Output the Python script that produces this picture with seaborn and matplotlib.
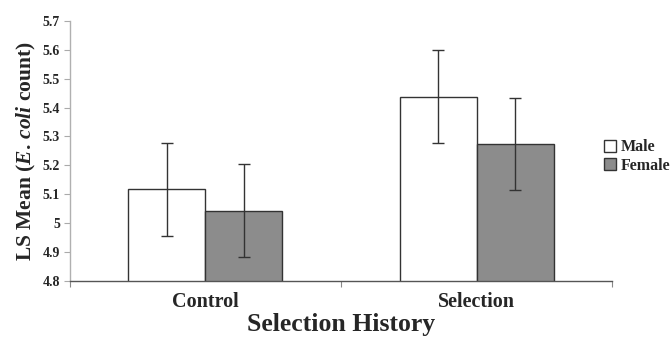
import pandas as pd
import matplotlib
matplotlib.use("Agg")
import matplotlib.pyplot as plt
import seaborn as sns

# values
groups = ["Control", "Selection"]
sexes = ["Male", "Female"]
male_means = [5.117, 5.437]
female_means = [5.043, 5.273]
male_err = [0.161, 0.161]
female_err = [0.160, 0.160]
yticks = [4.8, 4.9, 5.0, 5.1, 5.2, 5.3, 5.4, 5.5, 5.6, 5.7]

df = pd.DataFrame({
    "group": groups * 2,
    "sex": ["Male"] * 2 + ["Female"] * 2,
    "mean": male_means + female_means,
    "err": male_err + female_err,
})

sns.set_style("white")
plt.rcParams["font.family"] = ["Liberation Serif", "DejaVu Serif"]
plt.rcParams["font.weight"] = "bold"
plt.rcParams["mathtext.fontset"] = "custom"
plt.rcParams["mathtext.rm"] = "Liberation Serif:bold"
plt.rcParams["mathtext.it"] = "Liberation Serif:bold:italic"
plt.rcParams["mathtext.bf"] = "Liberation Serif:bold"

fig = plt.figure(figsize=(6.72, 3.41), dpi=100)
ax = fig.add_axes([0.104, 0.176, 0.807, 0.763])

sns.barplot(data=df, x="group", y="mean", hue="sex", hue_order=sexes,
            palette={"Male": "white", "Female": "#8c8c8c"},
            width=0.568, gap=0, errorbar=None, edgecolor="#333333",
            linewidth=1.0, ax=ax, legend=True)

# error bars on bar centres (patches come in hue order: male bars, then female)
bars = [p for p in ax.patches if p.get_height() != 0][:4]
for p, e in zip(bars, df["err"]):
    cx = p.get_x() + p.get_width() / 2
    ax.errorbar(cx, p.get_y() + p.get_height(), yerr=e, color="#333333",
                capsize=4, elinewidth=1.0, capthick=1.0, fmt="none")

ax.set_xlim(-0.5, 1.5)
ax.set_ylim(4.8, 5.7)
ax.set_yticks(yticks)
ax.set_yticklabels([f"{v:g}" for v in yticks], fontsize=10, fontweight="bold")
ax.tick_params(axis="y", direction="out", length=4, width=0.8, color="#aaaaaa", pad=3, left=True)
ax.tick_params(axis="x", length=0, pad=8)
ax.set_xticks([0, 1])
ax.set_xticklabels(groups, fontsize=14.5, fontweight="bold")
ax.set_xticks([-0.5, 0.5, 1.5], minor=True)
ax.tick_params(axis="x", which="minor", length=4, width=0.8, color="#888888", bottom=True)

for s in ["top", "right"]:
    ax.spines[s].set_visible(False)
ax.spines["left"].set_color("#b0b0b0")
ax.spines["bottom"].set_color("#555555")
ax.spines["left"].set_linewidth(1.0)
ax.spines["bottom"].set_linewidth(1.0)

ax.set_xlabel("Selection History", fontsize=18.5, fontweight="bold", labelpad=1)
ax.set_ylabel(r"LS Mean ($\mathit{E.\,coli}$ count)", fontsize=15.5,
              fontweight="bold", labelpad=3)

ax.legend(title=None, loc="upper left", bbox_to_anchor=(0.889, 0.61),
          bbox_transform=fig.transFigure, frameon=False, fontsize=11.5,
          handlelength=0.75, handleheight=0.75, handletextpad=0.3,
          labelspacing=0.15, borderaxespad=0)
for t in ax.get_legend().get_texts():
    t.set_fontweight("bold")

fig.savefig("out.png", dpi=100)
